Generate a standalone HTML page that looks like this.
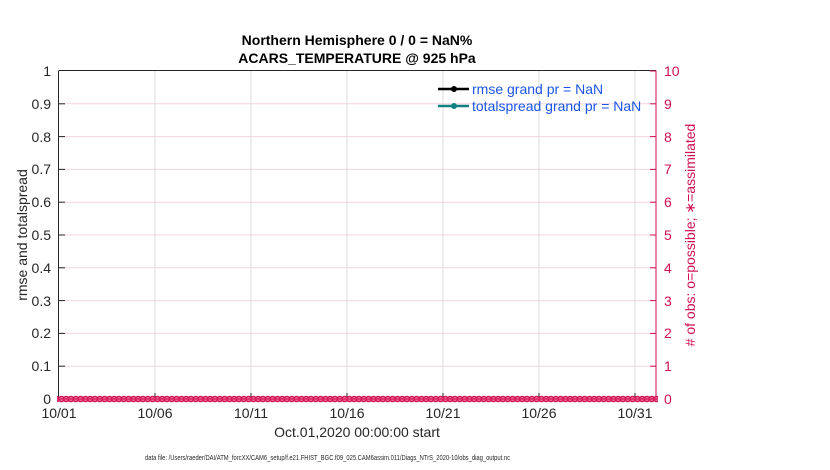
<!DOCTYPE html>
<html><head><meta charset="utf-8"><style>
html,body{margin:0;padding:0;background:#fff;}
svg{display:block;font-family:"Liberation Sans",Arial,sans-serif;}
</style></head><body>
<svg width="830" height="470" viewBox="0 0 830 470" xmlns="http://www.w3.org/2000/svg">
<defs>
<pattern id="mk" x="59" y="395.5" width="4.8" height="7" patternUnits="userSpaceOnUse">
<circle cx="2.4" cy="3.5" r="2.6" fill="#f27aa3" stroke="#d0104f" stroke-width="1.4"/>
<line x1="0.4" y1="3.5" x2="4.4" y2="3.5" stroke="#d0104f" stroke-width="1.2"/>
</pattern>
</defs>
<rect width="830" height="470" fill="#fff"/>
<g stroke="#f5d3e2" stroke-width="1">
<line x1="59" x2="656" y1="103.8" y2="103.8"/>
<line x1="59" x2="656" y1="136.6" y2="136.6"/>
<line x1="59" x2="656" y1="169.4" y2="169.4"/>
<line x1="59" x2="656" y1="202.2" y2="202.2"/>
<line x1="59" x2="656" y1="235" y2="235"/>
<line x1="59" x2="656" y1="267.8" y2="267.8"/>
<line x1="59" x2="656" y1="300.6" y2="300.6"/>
<line x1="59" x2="656" y1="333.4" y2="333.4"/>
<line x1="59" x2="656" y1="366.2" y2="366.2"/>
</g>
<g stroke="#dcdcdc" stroke-width="1">
<line x1="155" x2="155" y1="71" y2="399"/>
<line x1="251" x2="251" y1="71" y2="399"/>
<line x1="347" x2="347" y1="71" y2="399"/>
<line x1="443" x2="443" y1="71" y2="399"/>
<line x1="539" x2="539" y1="71" y2="399"/>
<line x1="635" x2="635" y1="71" y2="399"/>
</g>
<line x1="59" y1="70.5" x2="656" y2="70.5" stroke="#262626"/>
<line x1="58.5" y1="70.5" x2="58.5" y2="399" stroke="#262626"/>
<line x1="656" y1="70.5" x2="656" y2="399" stroke="#d0104f"/>
<g stroke="#262626">
<line x1="59" x2="65" y1="103.8" y2="103.8"/><line x1="59" x2="65" y1="136.6" y2="136.6"/>
<line x1="59" x2="65" y1="169.4" y2="169.4"/><line x1="59" x2="65" y1="202.2" y2="202.2"/>
<line x1="59" x2="65" y1="235" y2="235"/><line x1="59" x2="65" y1="267.8" y2="267.8"/>
<line x1="59" x2="65" y1="300.6" y2="300.6"/><line x1="59" x2="65" y1="333.4" y2="333.4"/>
<line x1="59" x2="65" y1="366.2" y2="366.2"/>
<line x1="155" x2="155" y1="399" y2="393"/><line x1="251" x2="251" y1="399" y2="393"/>
<line x1="347" x2="347" y1="399" y2="393"/><line x1="443" x2="443" y1="399" y2="393"/>
<line x1="539" x2="539" y1="399" y2="393"/><line x1="635" x2="635" y1="399" y2="393"/>
</g>
<g stroke="#d0104f">
<line x1="650" x2="656" y1="71" y2="71"/>
<line x1="650" x2="656" y1="103.8" y2="103.8"/><line x1="650" x2="656" y1="136.6" y2="136.6"/>
<line x1="650" x2="656" y1="169.4" y2="169.4"/><line x1="650" x2="656" y1="202.2" y2="202.2"/>
<line x1="650" x2="656" y1="235" y2="235"/><line x1="650" x2="656" y1="267.8" y2="267.8"/>
<line x1="650" x2="656" y1="300.6" y2="300.6"/><line x1="650" x2="656" y1="333.4" y2="333.4"/>
<line x1="650" x2="656" y1="366.2" y2="366.2"/>
</g>
<rect x="57" y="395.5" width="601" height="7" fill="url(#mk)"/>
<g font-size="14" fill="#262626" text-anchor="end">
<text x="51" y="76">1</text><text x="51" y="109">0.9</text><text x="51" y="142">0.8</text>
<text x="51" y="174">0.7</text><text x="51" y="207">0.6</text><text x="51" y="240">0.5</text>
<text x="51" y="273">0.4</text><text x="51" y="306">0.3</text><text x="51" y="338">0.2</text>
<text x="51" y="371">0.1</text><text x="51" y="404">0</text>
</g>
<g font-size="14" fill="#d0104f" text-anchor="start">
<text x="664" y="76">10</text><text x="664" y="109">9</text><text x="664" y="142">8</text>
<text x="664" y="174">7</text><text x="664" y="207">6</text><text x="664" y="240">5</text>
<text x="664" y="273">4</text><text x="664" y="306">3</text><text x="664" y="338">2</text>
<text x="664" y="371">1</text><text x="664" y="404">0</text>
</g>
<g font-size="14" fill="#262626" text-anchor="middle">
<text x="59" y="418">10/01</text><text x="155" y="418">10/06</text><text x="251" y="418">10/11</text>
<text x="347" y="418">10/16</text><text x="443" y="418">10/21</text><text x="539" y="418">10/26</text>
<text x="635" y="418">10/31</text>
<text x="357" y="437">Oct.01,2020 00:00:00 start</text>
</g>
<text transform="translate(27,235) rotate(-90)" font-size="14" fill="#262626" text-anchor="middle">rmse and totalspread</text>
<text transform="translate(695,235) rotate(-90)" font-size="14" fill="#d0104f" text-anchor="middle"># of obs: o=possible; ∗=assimilated</text>
<g font-size="14" font-weight="bold" fill="#000" text-anchor="middle">
<text x="357" y="45">Northern Hemisphere 0 / 0 = NaN%</text>
<text x="357" y="63">ACARS_TEMPERATURE @ 925 hPa</text>
</g>
<line x1="438" y1="89" x2="469" y2="89" stroke="#000" stroke-width="2.5"/>
<circle cx="454" cy="89" r="3" fill="#000"/>
<line x1="438" y1="106" x2="469" y2="106" stroke="#138080" stroke-width="2.5"/>
<circle cx="454" cy="106" r="3" fill="#138080"/>
<g font-size="14" fill="#1a55e6">
<text x="472" y="94">rmse grand pr = NaN</text>
<text x="472" y="111">totalspread grand pr = NaN</text>
</g>
<text x="145" y="460" font-size="7" fill="#262626" textLength="365" lengthAdjust="spacingAndGlyphs">data file: /Users/raeder/DAI/ATM_forcXX/CAM6_setup/f.e21.FHIST_BGC.f09_025.CAM6assim.011/Diags_NTrS_2020-10/obs_diag_output.nc</text>
</svg>
</body></html>
